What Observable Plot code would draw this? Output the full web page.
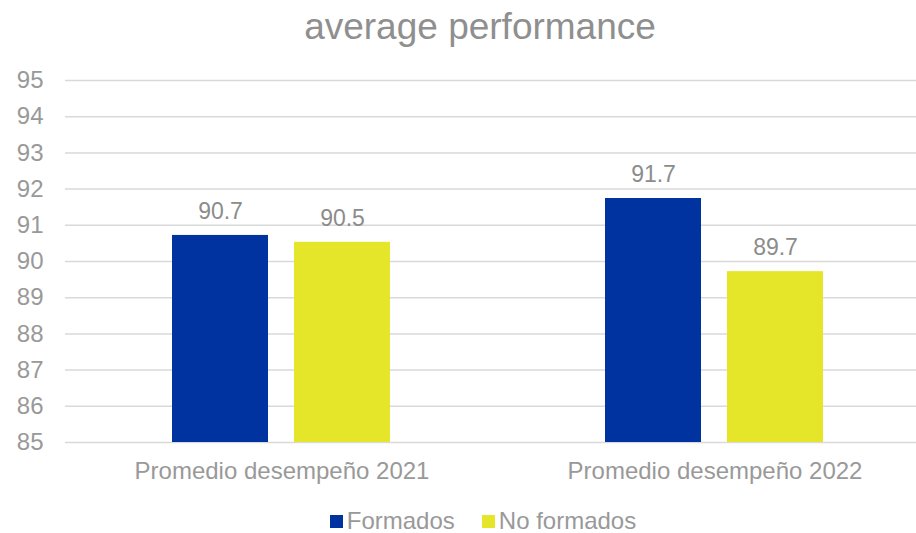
<!DOCTYPE html>
<html>
<head>
<meta charset="utf-8">
<script src="https://cdn.jsdelivr.net/npm/d3@7"></script>
<script src="https://cdn.jsdelivr.net/npm/@observablehq/plot@0.6"></script>
<style>
  html, body { margin: 0; padding: 0; background: white; }
  body { width: 916px; height: 533px; font-family: "Liberation Sans", Arial, sans-serif; }
  #title { height: 55px; line-height: 54px; font-size: 37px; color: #8f8f8f; text-align: center; padding-left: 44px; box-sizing: border-box; width: 916px; }
  #legend { display: flex; justify-content: center; gap: 27px; font-size: 24px; line-height: 24px; height: 24px; color: #999; padding-left: 50px; margin-top: 22px; }
  #legend span.item { display: inline-flex; align-items: center; gap: 4px; }
  #legend span.sw { display: inline-block; width: 13px; height: 13px; }
  svg { overflow: hidden; display: block; }
</style>
</head>
<body>
<div id="title">average performance</div>
<div id="chart"></div>
<div id="legend"></div>
<script>
const categories = ["Promedio desempeño 2021", "Promedio desempeño 2022"];
const seriesNames = ["Formados", "No formados"];
const formados = [90.72, 91.74];
const noFormados = [90.53, 89.72];
const yTicks = [85, 86, 87, 88, 89, 90, 91, 92, 93, 94, 95];
const colors = ["#0033a0", "#e5e629"];
const baseline = 85;

const data = [];
categories.forEach((c, i) => {
  data.push({category: c, series: seriesNames[0], value: formados[i]});
  data.push({category: c, series: seriesNames[1], value: noFormados[i]});
});

const chart = Plot.plot({
  width: 916,
  height: 432,
  marginLeft: 65,
  marginRight: 0,
  marginTop: 25,
  marginBottom: 45,
  style: {fontFamily: "'Liberation Sans', Arial, sans-serif", fontSize: "24px", color: "#999", background: "white"},
  fx: {domain: categories, range: [64.5, 930.5], paddingInner: 0, paddingOuter: 0, label: null, tickSize: 0, tickPadding: 19, axis: "bottom"},
  x: {domain: seriesNames, paddingInner: 0.211, paddingOuter: 0.866, axis: null},
  y: {domain: [85, 95], ticks: yTicks, tickSize: 0, tickPadding: 22, label: null},
  color: {domain: seriesNames, range: colors},
  marks: [
    Plot.ruleY(yTicks, {stroke: "#d9d9d9", strokeWidth: 1.5}),
    Plot.barY(data, {fx: "category", x: "series", y1: () => baseline, y2: "value", fill: "series"}),
    Plot.text(data, {fx: "category", x: "series", y: "value", text: d => d.value.toFixed(1), dy: -24, fill: "#8c8c8c", fontSize: 23})
  ]
});
document.getElementById("chart").appendChild(chart);

const legend = document.getElementById("legend");
seriesNames.forEach((s, i) => {
  const item = document.createElement("span");
  item.className = "item";
  const sw = document.createElement("span");
  sw.className = "sw";
  sw.style.background = colors[i];
  item.appendChild(sw);
  item.appendChild(document.createTextNode(s));
  legend.appendChild(item);
});
</script>
</body>
</html>
